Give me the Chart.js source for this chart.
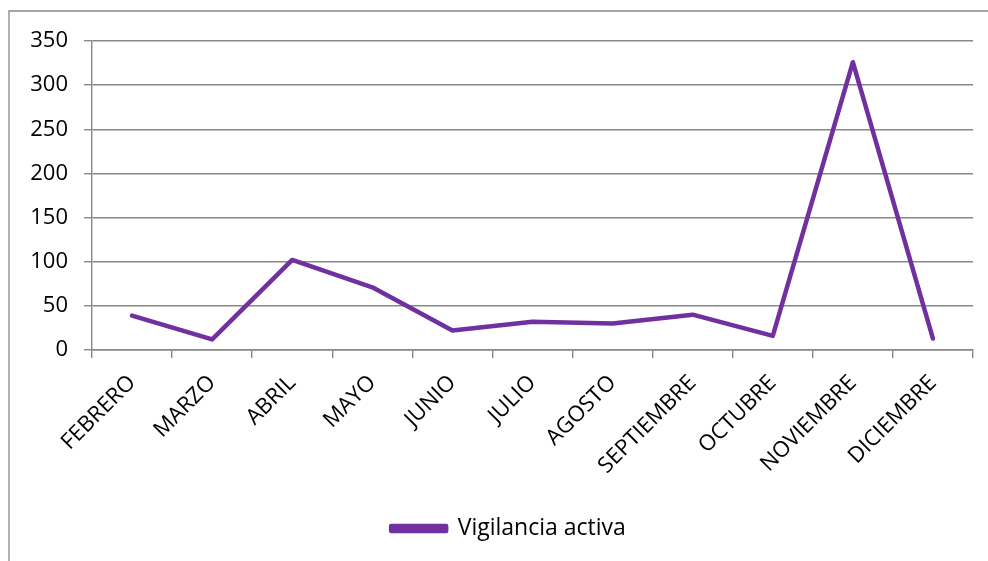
<!DOCTYPE html>
<html>
<head>
<meta charset="utf-8">
<script src="https://cdn.jsdelivr.net/npm/chart.js@4/dist/chart.umd.min.js"></script>
<style>
    html, body { margin: 0; padding: 0; background: #fff; }
    #wrap { position: relative; width: 988px; height: 561px; }
</style>
</head>
<body>
<div id="wrap"><canvas id="chart"></canvas></div>
<script>
const months = ['FEBRERO', 'MARZO', 'ABRIL', 'MAYO', 'JUNIO', 'JULIO', 'AGOSTO',
    'SEPTIEMBRE', 'OCTUBRE', 'NOVIEMBRE', 'DICIEMBRE'];
const vigilancia = [39, 12, 102, 71, 22, 32, 30, 40, 16, 326, 13];
const seriesLabel = 'Vigilancia activa';
const yTicks = [0, 50, 100, 150, 200, 250, 300, 350];

const purple = '#7030A0';
const gridGray = '#888888';
const fontFamily = '"Open Sans", "Noto Sans", sans-serif';

// outer frame of the chart object (partly cut off on the right and bottom)
const frameBorderPlugin = {
    id: 'frameBorderPlugin',
    beforeDraw: function (chart) {
        const { ctx } = chart;
        ctx.save();
        ctx.strokeStyle = gridGray;
        ctx.lineWidth = 1.3;
        ctx.beginPath();
        ctx.moveTo(9, chart.height + 5);
        ctx.lineTo(9, 11);
        ctx.lineTo(chart.width + 5, 11);
        ctx.stroke();
        ctx.restore();
    }
};

// nudge the legend a bit right, it sits under the plot centre in the reference
const legendShiftPlugin = {
    id: 'legendShiftPlugin',
    afterLayout: function (chart) {
        if (chart.legend) {
            chart.legend.left += 12;
            chart.legend.right += 12;
        }
    }
};

const ctx = document.getElementById('chart');

const config = {
    type: 'line',
    data: {
        labels: months,
        datasets: [{
            label: seriesLabel,
            data: vigilancia,
            borderColor: purple,
            backgroundColor: purple,
            borderWidth: 4.5,
            pointRadius: 0,
            tension: 0,
            borderCapStyle: 'round',
            borderJoinStyle: 'round'
        }]
    },
    options: {
        responsive: true,
        maintainAspectRatio: false,
        animation: false,
        layout: {
            padding: { left: 20, right: 15, top: 41, bottom: 11 }
        },
        plugins: {
            legend: {
                position: 'bottom',
                labels: {
                    color: '#000',
                    boxWidth: 55,
                    boxHeight: 5,
                    padding: 20,
                    font: { family: fontFamily, size: 23 }
                }
            },
            tooltip: { enabled: false }
        },
        scales: {
            x: {
                offset: true,
                grid: {
                    offset: true,
                    drawOnChartArea: false,
                    drawTicks: true,
                    tickLength: 8,
                    color: gridGray,
                    lineWidth: 1.4
                },
                border: { color: gridGray, width: 1.4 },
                ticks: {
                    color: '#000',
                    minRotation: 45,
                    maxRotation: 45,
                    autoSkip: false,
                    padding: 12,
                    font: { family: fontFamily, size: 22 }
                },
                afterFit: function (axis) {
                    // keep the plot bottom where the reference has it
                    axis.height = 147;
                }
            },
            y: {
                min: 0,
                max: 350,
                afterBuildTicks: function (axis) {
                    axis.ticks = yTicks.map(v => ({ value: v }));
                },
                grid: {
                    color: gridGray,
                    lineWidth: 1.4,
                    tickLength: 8
                },
                border: { color: gridGray, width: 1.4 },
                ticks: {
                    color: '#000',
                    padding: 16,
                    font: { family: fontFamily, size: 22 }
                },
                afterFit: function (axis) {
                    axis.width = 72;
                }
            }
        }
    },
    plugins: [frameBorderPlugin, legendShiftPlugin]
};

const myChart = new Chart(ctx, config);
</script>
</body>
</html>
